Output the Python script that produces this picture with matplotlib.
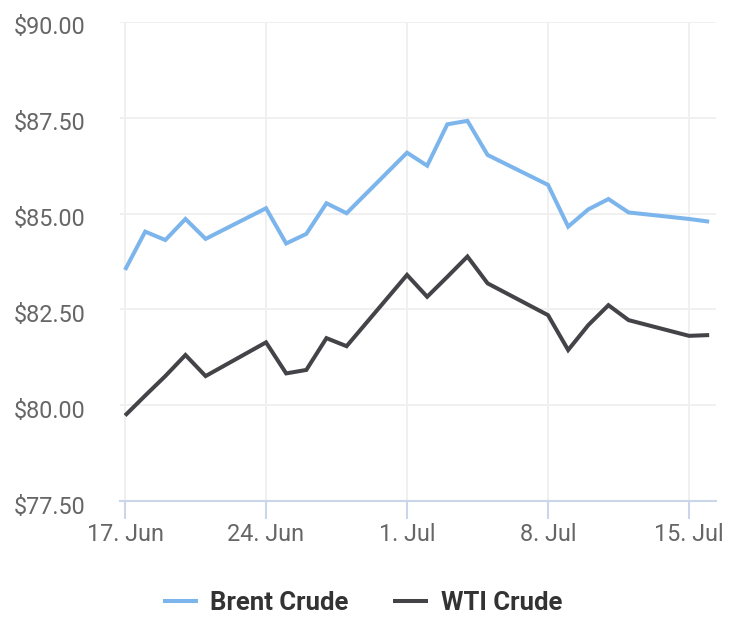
import matplotlib
matplotlib.use("Agg")
import matplotlib.pyplot as plt
import matplotlib.dates as mdates
import matplotlib.transforms as mtransforms
import numpy as np
import datetime as dt

dates = ["2024-06-17", "2024-06-18", "2024-06-19", "2024-06-20", "2024-06-21",
         "2024-06-24", "2024-06-25", "2024-06-26", "2024-06-27", "2024-06-28",
         "2024-07-01", "2024-07-02", "2024-07-03", "2024-07-04", "2024-07-05",
         "2024-07-08", "2024-07-09", "2024-07-10", "2024-07-11", "2024-07-12",
         "2024-07-15", "2024-07-16"]
brent = [83.53, 84.53, 84.31, 84.86, 84.34,
         85.14, 84.22, 84.47, 85.27, 85.01,
         86.59, 86.25, 87.33, 87.42, 86.53,
         85.75, 84.66, 85.11, 85.38, 85.03,
         84.86, 84.79]
wti = [79.73, 80.25, 80.76, 81.31, 80.76,
       81.64, 80.83, 80.92, 81.75, 81.54,
       83.40, 82.83, 83.35, 83.88, 83.18,
       82.35, 81.44, 82.09, 82.61, 82.22,
       81.81, 81.83]
series_names = ["Brent Crude", "WTI Crude"]
y_ticks = [77.5, 80.0, 82.5, 85.0, 87.5, 90.0]
x_tick_dates = ["2024-06-17", "2024-06-24", "2024-07-01", "2024-07-08", "2024-07-15"]

plt.rcParams['font.family'] = ['Roboto', 'DejaVu Sans']

d = [dt.datetime.strptime(s, "%Y-%m-%d") for s in dates]
xt = [dt.datetime.strptime(s, "%Y-%m-%d") for s in x_tick_dates]

fig = plt.figure(figsize=(7.5, 6.26), dpi=100)
ax = fig.add_axes([120/750, 1-501/626, (716-120)/750, (501-22)/626])

lb, = ax.plot(d, brent, color="#7cb5ec", lw=2.9, solid_joinstyle="miter", solid_capstyle="butt", label=series_names[0])
lw_, = ax.plot(d, wti, color="#434348", lw=2.9, solid_joinstyle="miter", solid_capstyle="butt", label=series_names[1])

x0 = mdates.date2num(d[0])
ax.set_xlim(x0 - 0.25, x0 + 29.34)
ax.set_ylim(77.5, 90.0)
ax.set_yticks(y_ticks)
ax.set_yticklabels([f"${v:,.2f}" for v in y_ticks])
ax.set_xticks(xt)
ax.set_xticklabels([f"{t.day}. {t.strftime('%b')}" for t in xt])

ax.grid(True, color="#f0f0f0", lw=1.4)
ax.set_axisbelow(True)
for s in ["top", "right", "left"]:
    ax.spines[s].set_visible(False)
ax.spines["bottom"].set_color("#ccd6eb")
ax.spines["bottom"].set_linewidth(1.5)
ax.tick_params(axis="y", length=0, pad=25, labelsize=16.8, labelcolor="#666666")
ax.tick_params(axis="x", length=13, width=1.5, color="#ccd6eb", pad=3, labelsize=16.8, labelcolor="#666666")
shift = mtransforms.ScaledTranslation(0, -3.5/100, fig.dpi_scale_trans)
for lab in ax.get_yticklabels():
    lab.set_verticalalignment("center_baseline")
    lab.set_transform(lab.get_transform() + shift)

leg = fig.legend(handles=[lb, lw_], loc="center", bbox_to_anchor=(362.5/750, 1-603/626),
                 ncol=2, frameon=False, handlelength=1.36, handletextpad=0.47,
                 columnspacing=1.75, prop={"family": "Roboto", "weight": "bold", "size": 18.5})
for t in leg.get_texts():
    t.set_color("#333333")

fig.savefig("out.png", dpi=100)
